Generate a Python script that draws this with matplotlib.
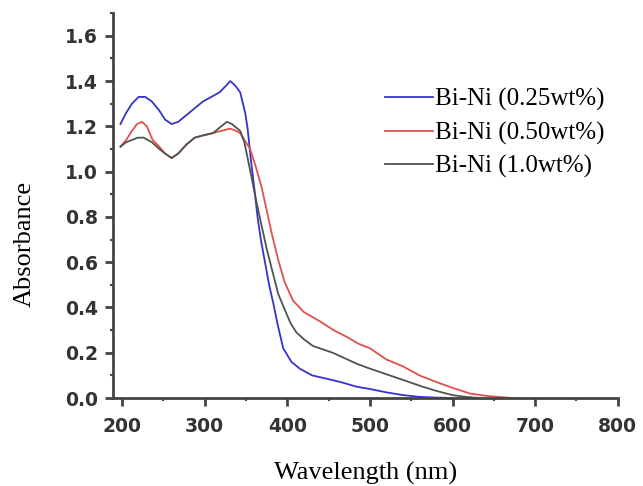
import matplotlib
matplotlib.use("Agg")
import matplotlib.pyplot as plt
from matplotlib.ticker import MultipleLocator

# UV-Vis absorbance spectra
wl_025 = [198, 205, 212, 220, 228, 236, 245, 252, 260, 268, 278, 288, 298, 308,
          318, 326, 331, 337, 343, 349, 352, 356, 360, 364, 368, 373, 378, 383,
          388, 395, 405, 415, 430, 448, 465, 484, 500, 520, 540, 560, 580, 600]
abs_025 = [1.21, 1.26, 1.30, 1.33, 1.33, 1.31, 1.27, 1.23, 1.21, 1.22, 1.25, 1.28,
           1.31, 1.33, 1.35, 1.38, 1.40, 1.38, 1.35, 1.26, 1.19, 1.05, 0.93, 0.80,
           0.70, 0.60, 0.50, 0.42, 0.33, 0.22, 0.16, 0.13, 0.10, 0.085, 0.07, 0.05,
           0.04, 0.025, 0.013, 0.005, 0.002, 0.0]

wl_050 = [198, 205, 212, 218, 224, 230, 237, 245, 252, 260, 268, 278, 288, 298,
          310, 320, 331, 338, 343, 348, 355, 362, 369, 375, 381, 389, 397, 407,
          420, 439, 456, 472, 486, 500, 520, 540, 560, 581, 600, 621, 640, 655, 673]
abs_050 = [1.11, 1.14, 1.18, 1.21, 1.22, 1.20, 1.14, 1.11, 1.08, 1.06, 1.08, 1.12,
           1.15, 1.16, 1.17, 1.18, 1.19, 1.18, 1.17, 1.14, 1.10, 1.02, 0.93, 0.83,
           0.73, 0.61, 0.51, 0.43, 0.38, 0.34, 0.30, 0.27, 0.24, 0.22, 0.17, 0.14,
           0.10, 0.07, 0.045, 0.02, 0.01, 0.005, 0.0]

wl_10 = [198, 205, 212, 219, 226, 236, 245, 252, 260, 268, 278, 288, 298, 310,
         320, 327, 333, 343, 348, 352, 357, 363, 369, 375, 382, 389, 397, 404,
         411, 420, 431, 443, 455, 470, 485, 500, 516, 532, 548, 564, 582, 600,
         616, 633]
abs_10 = [1.11, 1.13, 1.14, 1.15, 1.15, 1.13, 1.10, 1.08, 1.06, 1.08, 1.12, 1.15,
          1.16, 1.17, 1.20, 1.22, 1.21, 1.18, 1.13, 1.06, 0.97, 0.86, 0.76, 0.66,
          0.56, 0.46, 0.39, 0.33, 0.29, 0.26, 0.23, 0.215, 0.20, 0.175, 0.15, 0.13,
          0.11, 0.09, 0.07, 0.05, 0.03, 0.013, 0.005, 0.0]

labels = ["Bi-Ni (0.25wt%)", "Bi-Ni (0.50wt%)", "Bi-Ni (1.0wt%)"]
colors = ["#3434cc", "#e0504c", "#4c554f"]

fig = plt.figure(figsize=(6.43, 4.86), dpi=100)
ax = fig.add_axes([0.1757, 0.181, 0.785, 0.792])

ax.plot(wl_025, abs_025, color=colors[0], lw=1.3, label=labels[0])
ax.plot(wl_050, abs_050, color=colors[1], lw=1.3, label=labels[1])
ax.plot(wl_10, abs_10, color=colors[2], lw=1.3, label=labels[2])

ax.set_xlim(189, 800)
ax.set_ylim(0, 1.70)
ax.xaxis.set_minor_locator(MultipleLocator(50))
ax.yaxis.set_major_locator(MultipleLocator(0.2))
ax.yaxis.set_minor_locator(MultipleLocator(0.1))
ax.set_xticks(range(200, 801, 100))
ax.yaxis.set_major_formatter(plt.FormatStrFormatter("%.1f"))

for s in ["top", "right"]:
    ax.spines[s].set_visible(False)
for s in ["left", "bottom"]:
    ax.spines[s].set_linewidth(2)
    ax.spines[s].set_color("#444444")

ax.tick_params(which="major", direction="out", length=6, width=2, color="#444444",
               labelsize=13.5, labelcolor="#333333")
ax.tick_params(which="minor", direction="out", length=2.5, width=1.5, color="#444444")
ax.tick_params(axis="x", which="major", pad=8)
ax.tick_params(axis="y", which="major", pad=5)
for t in ax.get_xticklabels() + ax.get_yticklabels():
    t.set_fontweight("bold")
    t.set_family("DejaVu Sans")

ax.set_xlabel("Wavelength (nm)", family="Liberation Serif", fontsize=19)
ax.set_ylabel("Absorbance", family="Liberation Serif", fontsize=19)
ax.xaxis.set_label_coords(0.5, -0.197)
ax.xaxis.label.set_va("center")
ax.yaxis.set_label_coords(-0.175, 0.40)
ax.yaxis.label.set_va("center")

ax.legend(loc="upper left", bbox_to_anchor=(385 / 643, 1 - 88 / 486),
          bbox_transform=fig.transFigure, frameon=False,
          prop={"family": "Liberation Serif", "size": 18},
          handlelength=1.9, handletextpad=0.1, labelspacing=0.42, borderpad=0,
          borderaxespad=0)

fig.savefig("out.png", dpi=100)
